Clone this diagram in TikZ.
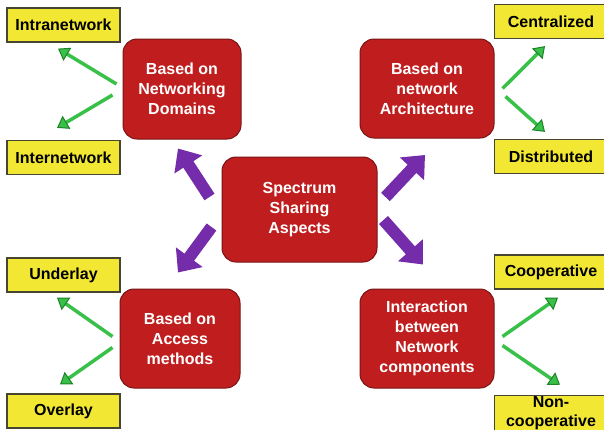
\documentclass[tikz,border=0pt]{standalone}
\usepackage{fontspec}
\setmainfont{Liberation Sans}
\usetikzlibrary{arrows.meta}
\definecolor{aspectRed}{RGB}{192,30,30}
\definecolor{aspectEdge}{RGB}{120,20,20}
\definecolor{leafYellow}{RGB}{242,232,52}
\definecolor{leafEdge}{RGB}{70,70,50}
\definecolor{arrowGreen}{RGB}{56,192,72}
\definecolor{arrowGreenEdge}{RGB}{30,130,40}
\definecolor{arrowPurple}{RGB}{116,44,170}

\begin{document}
\begin{tikzpicture}
[x=1pt,y=-1pt,
  aspectDecorate/.style={shape=rectangle,rounded corners=14pt,draw=aspectEdge,
    line width=1pt,fill=aspectRed,text=white,align=center,
    font=\fontsize{16}{20}\selectfont\bfseries},%
  leafDecorate/.style={shape=rectangle,draw=leafEdge,line width=1.2pt,
    fill=leafYellow,minimum width=113pt,minimum height=34pt,align=center,
    inner sep=1pt,font=\fontsize{16}{19}\selectfont\bfseries},%
  greenDecorate/.style={draw=arrowGreen,line width=3.5pt,
    -{Triangle[length=11pt,width=15pt,line width=1pt,color=arrowGreenEdge,fill=arrowGreen]}},%
  purpleDecorate/.style={draw=arrowPurple,line width=12pt,
    -{Triangle[length=19pt,width=32pt]}}]
\useasboundingbox (0,0) rectangle (604,429);
%% aspect boxes
\foreach \nodename/\x/\y/\w/\h/\text in {
  ss/299.5/209.5/155/105/{Spectrum\\Sharing\\Aspects},
  dom/182/89/118/100/{Based on\\Networking\\Domains},
  arch/427/88.5/134/99/{Based on\\network\\Architecture},
  acc/180/338.5/120/99/{Based on\\Access\\methods},
  inter/427/338.5/134/99/{Interaction\\between\\Network\\components}}
{
  \node (\nodename) at (\x,\y) [aspectDecorate,minimum width=\w pt,minimum height=\h pt] {\text};
}
%% leaf boxes
\foreach \nodename/\x/\y/\text in {
  intra/63.5/25/Intranetwork, internet/63.5/157.5/Internetwork,
  under/63.5/275/Underlay, over/63.5/411/Overlay,
  cent/551/21.5/Centralized, dist/551/156.5/Distributed,
  coop/551/272/Cooperative, ncoop/551/413/{Non-\\cooperative}}
{
  \node (\nodename) at (\x,\y) [leafDecorate] {\text};
}
%% purple arrows
\draw[purpleDecorate] ([shift={(-12,-12.5)}]ss.west) -- ([shift={(-4,9)}]dom.south);
\draw[purpleDecorate] ([shift={(8,-12.5)}]ss.east) -- ([shift={(-2,16.5)}]arch.south);
\draw[purpleDecorate] ([shift={(-10,17.5)}]ss.west) -- ([shift={(-2,-16)}]acc.north);
\draw[purpleDecorate] ([shift={(6,10.5)}]ss.east) -- ([shift={(-4,-24)}]inter.north);
%% green arrows
\draw[greenDecorate] ([shift={(-6,-5)}]dom.west) -- ([shift={(-5.5,6)}]intra.south);
\draw[greenDecorate] ([shift={(-10,6)}]dom.west) -- ([shift={(-6.5,-12)}]internet.north);
\draw[greenDecorate] ([shift={(8,0)}]arch.east) -- ([shift={(-6,7)}]cent.south);
\draw[greenDecorate] ([shift={(11,8)}]arch.east) -- ([shift={(-6,-7)}]dist.north);
\draw[greenDecorate] ([shift={(-7,-2)}]acc.west) -- ([shift={(-6.5,5)}]under.south);
\draw[greenDecorate] ([shift={(-7,9)}]acc.west) -- ([shift={(-3.5,-9)}]over.north);
\draw[greenDecorate] ([shift={(8,-2)}]inter.east) -- ([shift={(7,8)}]coop.south);
\draw[greenDecorate] ([shift={(8,7)}]inter.east) -- ([shift={(9,-10)}]ncoop.north);
\end{tikzpicture}
\end{document}
